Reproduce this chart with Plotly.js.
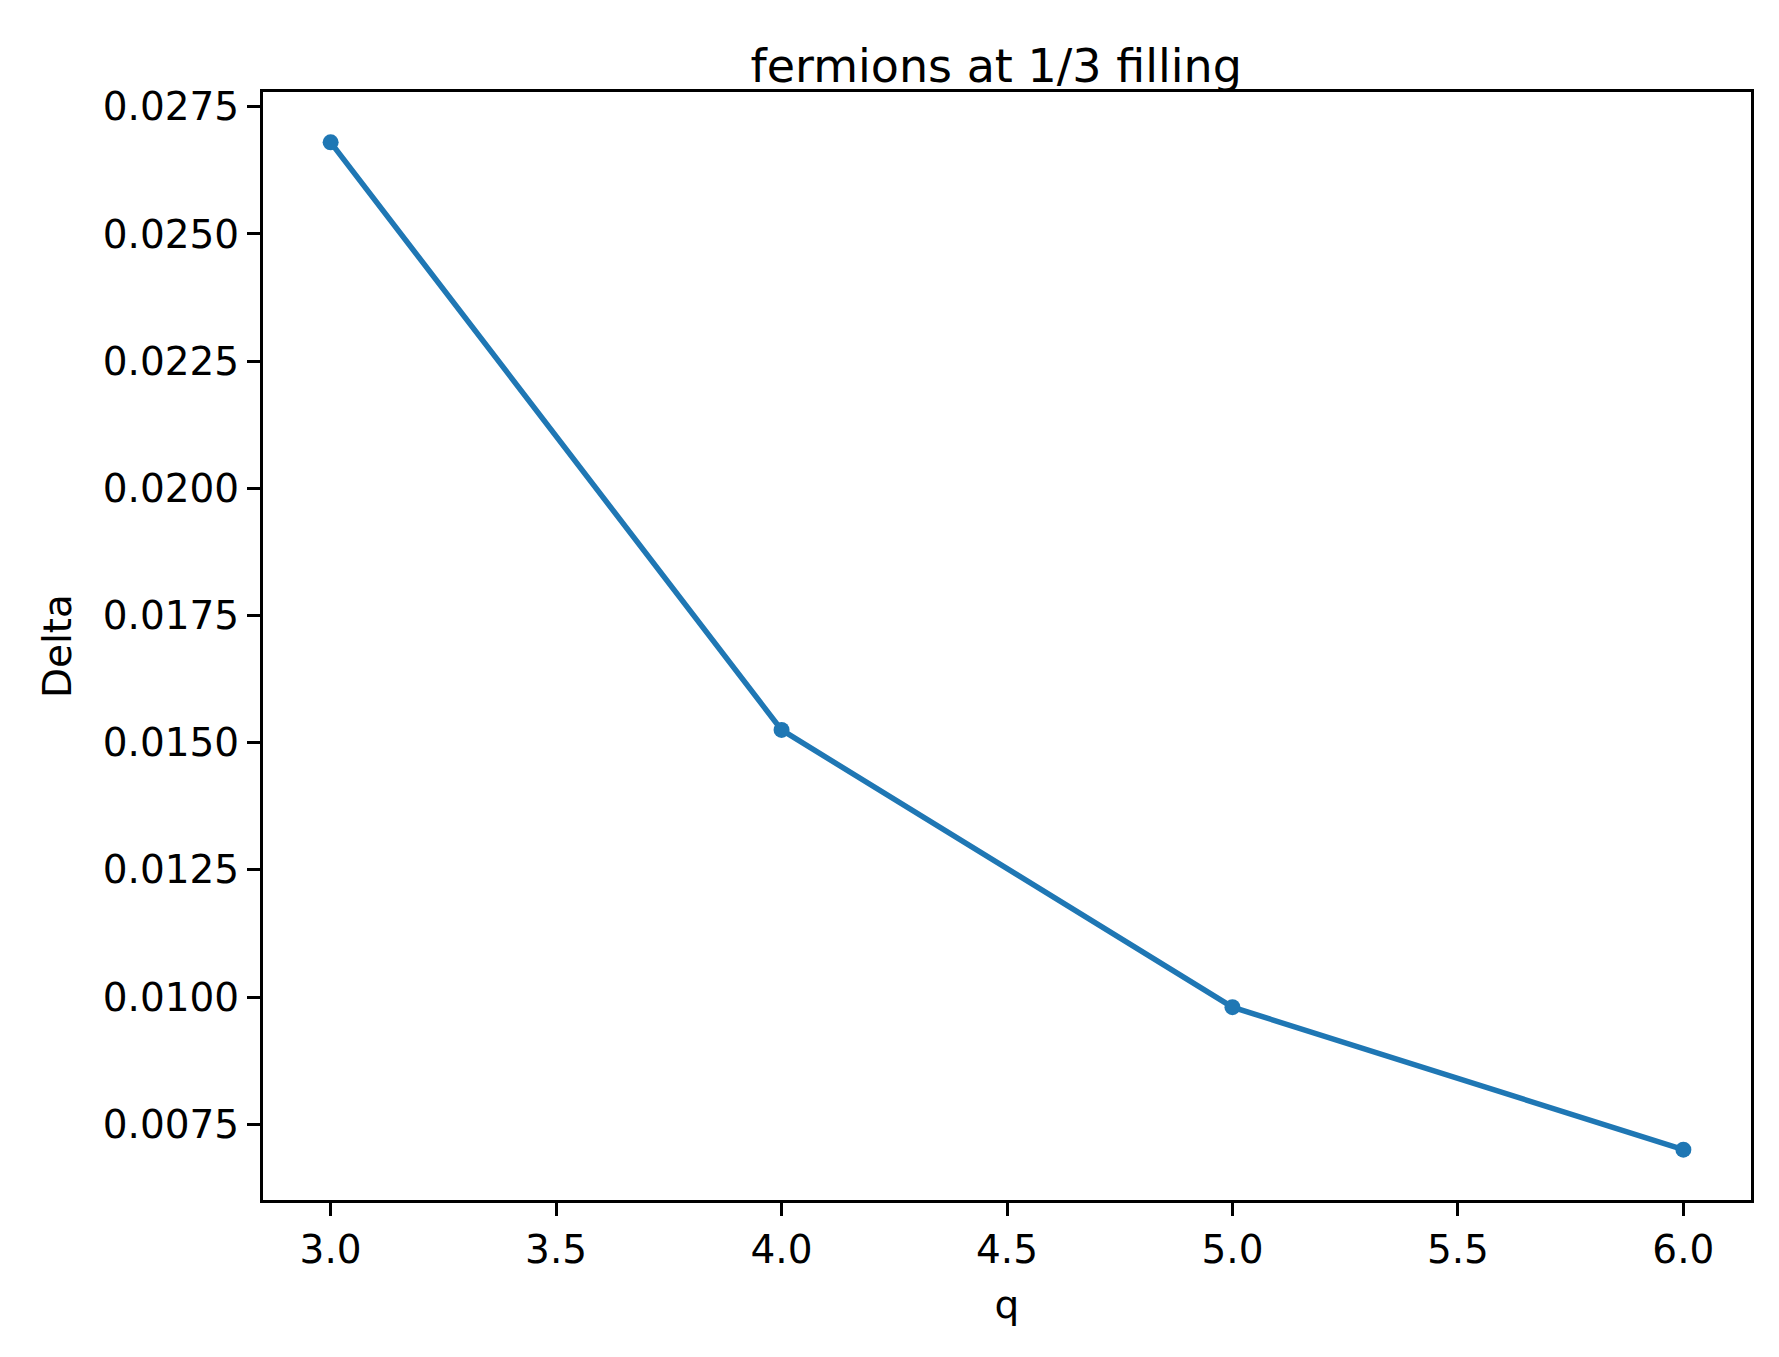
<!DOCTYPE html>
<html>
<head>
<script src="https://cdn.plot.ly/plotly-3.0.1.min.js"></script>
<style>body{margin:0}#chart{width:1779px;height:1357px}</style>
</head>
<body>
<div id="chart"></div>
<script>
var q = [3, 4, 5, 6];
var delta = [0.0268, 0.01525, 0.0098, 0.0070];
var xTicks = [3.0, 3.5, 4.0, 4.5, 5.0, 5.5, 6.0];
var yTicks = [0.0075, 0.0100, 0.0125, 0.0150, 0.0175, 0.0200, 0.0225, 0.0250, 0.0275];

var axisStyle = {
  showline: true, linecolor: 'black', linewidth: 3, mirror: true,
  ticks: 'outside', ticklen: 13, tickwidth: 3, tickcolor: 'black',
  showgrid: false, zeroline: false,
  tickfont: { size: 39, color: 'black' }
};

var data = [{
  x: q, y: delta, type: 'scatter', mode: 'lines+markers',
  line: { color: '#1f77b4', width: 5.5 },
  marker: { color: '#1f77b4', size: 16 }
}];

var layout = Object.assign({
  font: { family: 'DejaVu Sans', color: 'black' },
  paper_bgcolor: 'white', plot_bgcolor: 'white',
  margin: { l: 263, r: 28, t: 92, b: 157 },
  showlegend: false,
  title: { text: 'fermions at 1/3 filling', font: { size: 46 }, x: 0.56, y: 0.963, xanchor: 'center' }
}, {
  xaxis: Object.assign({}, axisStyle, {
    range: [2.85, 6.15], tickvals: xTicks,
    ticktext: xTicks.map(v => v.toFixed(1)),
    title: { text: 'q', font: { size: 39 }, standoff: 20 }
  }),
  yaxis: Object.assign({}, axisStyle, {
    range: [0.00601, 0.02779], tickvals: yTicks,
    ticktext: yTicks.map(v => v.toFixed(4)),
    title: { text: 'Delta', font: { size: 39 }, standoff: 20 }
  })
});

Plotly.newPlot('chart', data, layout, { staticPlot: true });
</script>
</body>
</html>
